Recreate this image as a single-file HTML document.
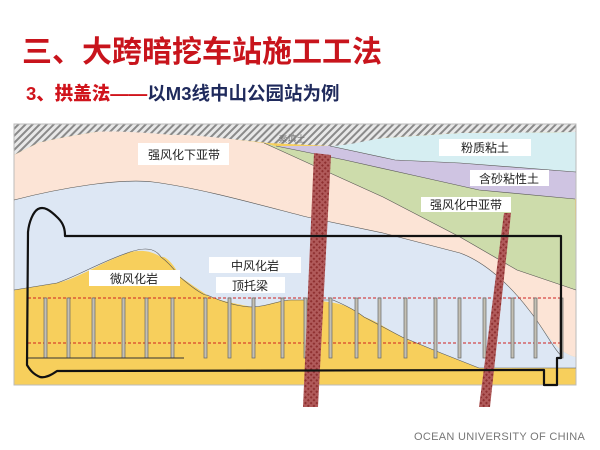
<!DOCTYPE html>
<html><head><meta charset="utf-8"><style>
body{margin:0;width:600px;height:450px;background:#fff;overflow:hidden;position:relative;font-family:"Liberation Sans","Noto Sans CJK SC",sans-serif}
.t{position:absolute;left:22px;top:27px;font-size:30px;font-weight:bold;color:#c8141c;white-space:nowrap;letter-spacing:0px}
.s{position:absolute;left:26px;top:80px;font-size:18.5px;font-weight:bold;color:#1f2a5c;white-space:nowrap}
.s b{color:#d0141c}
.f{position:absolute;left:414px;top:431px;font-size:11px;color:#777;white-space:nowrap;letter-spacing:0.3px}
svg{position:absolute;left:0;top:0}
</style></head><body>
<div class="t">三、大跨暗挖车站施工工法</div>
<div class="s"><b>3、拱盖法——</b>以M3线中山公园站为例</div>
<svg width="600" height="450" viewBox="0 0 600 450">
<defs>
<pattern id="h" width="5" height="5" patternUnits="userSpaceOnUse" patternTransform="rotate(45)"><rect width="5" height="5" fill="#e8e8e8"/><rect width="2" height="5" fill="#8a8a8a"/></pattern>
<pattern id="r" width="4" height="4" patternUnits="userSpaceOnUse" patternTransform="rotate(45)"><rect width="4" height="4" fill="#b05a5a"/><rect width="2" height="2" fill="#8e3030"/></pattern>
</defs>
<rect x="14" y="124" width="562" height="261" fill="#f7cf5c"/>
<path d="M14,200 C60,188 120,178 153,182 C200,188 260,205 307,217 L383,233 L460,253 C485,262 510,285 529,310 C545,330 555,352 576,357 L576,368 L479,368 C450,357 420,345 402,337 C385,328 375,320 364,317 C350,306 340,300 291,300 C270,302 260,308 253,307 C230,303 210,298 207,295 C195,287 185,280 180,277 C175,265 165,255 161,257 C150,250 140,250 130,252 C110,260 100,265 96,267 C80,275 70,280 57,283 L14,290 Z" fill="#dde7f4"/>
<path d="M14,155 L14,200 C60,188 120,178 153,182 C200,188 260,205 307,217 L383,233 L460,253 C485,262 510,285 529,310 C545,330 555,352 576,357 L576,290 L517,270 L460,237 L383,197 L330,173 L264,143 C220,138 190,133 172,135 C130,130 100,130 96,132 C70,136 50,140 38,143 Z" fill="#fce4d6"/>
<path d="M264,143 L276,146 L345,160 L421,177 L479,190 L575,199 L576,290 L517,270 L460,237 L383,197 L330,173 Z" fill="#cddcab"/>
<path d="M276,146 L330,146 L395,160 L460,163 L576,172 L576,199 L479,190 L421,177 L345,160 Z" fill="#cfc4e2"/>
<path d="M330,146 C350,142 370,140 383,138 L460,133 L576,132 L576,172 L460,163 L395,160 Z" fill="#d6eef2"/>
<path d="M14,124 L576,124 L576,132 L460,133 L383,138 C360,142 345,146 330,146 L268,143 C220,138 190,134 172,135 C130,131 100,131 96,132 C70,136 50,140 38,143 L14,155 Z" fill="url(#h)"/>
<rect x="14" y="124" width="562" height="261" fill="none" stroke="#bbb" stroke-width="1"/>
<g fill="none" stroke="#555" stroke-width="0.6">
<path d="M14,200 C60,188 120,178 153,182 C200,188 260,205 307,217 L383,233 L460,253 C485,262 510,285 529,310 C545,330 555,352 563,357"/>
<path d="M264,143 L330,173 L383,197 L460,237 L517,270 L576,290"/>
<path d="M276,146 L345,160 L421,177 L479,190 L575,199"/>
<path d="M330,146 L395,160 L460,163 L576,172"/>
<path d="M14,290 L57,283 C80,275 100,262 130,252 C145,247 155,248 161,257 C172,265 178,275 180,277 C195,290 205,296 207,295 C225,303 240,307 253,307 C270,306 280,300 291,300 L333,300 C345,305 355,310 364,317 L402,337 L441,353 L479,368 L576,368"/>
</g>
<g stroke="#d02020" stroke-width="1" stroke-dasharray="3,2">
<line x1="28" y1="298" x2="561" y2="298"/><line x1="28" y1="343" x2="561" y2="343"/>
</g>
<g fill="#c4c0b4" stroke="#666" stroke-width="0.7">
<rect x="44" y="298" width="3" height="60"/><rect x="67" y="298" width="3" height="60"/><rect x="92" y="298" width="3" height="60"/><rect x="122" y="298" width="3" height="60"/><rect x="145" y="298" width="3" height="60"/><rect x="171" y="298" width="3" height="60"/><rect x="204" y="298" width="3" height="60"/><rect x="228" y="298" width="3" height="60"/><rect x="252" y="298" width="3" height="60"/><rect x="281" y="298" width="3" height="60"/><rect x="304" y="298" width="3" height="60"/><rect x="329" y="298" width="3" height="60"/><rect x="355" y="298" width="3" height="60"/><rect x="378" y="298" width="3" height="60"/><rect x="404" y="298" width="3" height="60"/><rect x="434" y="298" width="3" height="60"/><rect x="458" y="298" width="3" height="60"/><rect x="483" y="298" width="3" height="60"/><rect x="511" y="298" width="3" height="60"/><rect x="534" y="298" width="3" height="60"/><rect x="560" y="298" width="3" height="60"/>
</g>
<line x1="27" y1="358" x2="184" y2="358" stroke="#333" stroke-width="1"/>
<polygon points="314,153 331,155 318,407 303,407" fill="url(#r)"/>
<polygon points="504,213 511,213 490,407 479,407" fill="url(#r)"/>
<path d="M65,236 L561,236 L561,358 L557,358 L557,385 L544,385 L544,370 L57,371 C50,376 45,378 40,377 C33,374 30,370 27,365 L28,232 C29,222 33,212 38,209 C44,206 50,210 58,218 C64,224 65,230 65,236 Z" fill="none" stroke="#111" stroke-width="2.2" stroke-linejoin="round"/>
<g fill="#fff"><rect x="138" y="143" width="91" height="22"/><rect x="439" y="139" width="92" height="17"/><rect x="470" y="170" width="79" height="16"/><rect x="421" y="197" width="90" height="15"/><rect x="209" y="257" width="92" height="16"/><rect x="216" y="277" width="69" height="16"/><rect x="89" y="270" width="91" height="16"/></g>
<g font-size="12" fill="#222" text-anchor="middle" font-family="Liberation Sans,Noto Sans CJK SC,sans-serif">
<text x="184" y="159">强风化下亚带</text><text x="485" y="152">粉质粘土</text><text x="509" y="183">含砂粘性土</text><text x="466" y="209">强风化中亚带</text><text x="255" y="270">中风化岩</text><text x="250" y="290">顶托梁</text><text x="134" y="283">微风化岩</text>
<text x="292" y="142" font-size="9" fill="#777">素填土</text>
</g>
</svg>
<div class="f">OCEAN UNIVERSITY OF CHINA</div>
</body></html>
